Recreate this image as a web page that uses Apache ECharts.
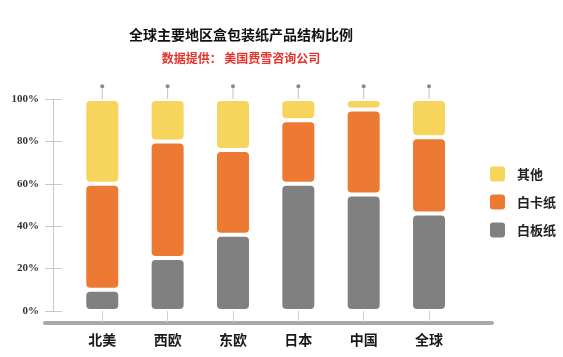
<!DOCTYPE html>
<html>
<head>
<meta charset="utf-8">
<script src="https://cdn.jsdelivr.net/npm/echarts@6/dist/echarts.min.js"></script>
<style>
html,body{margin:0;padding:0;background:#fff;}
#main{width:563px;height:357px;}
</style>
</head>
<body>
<div id="main"></div>
<script>
const categories = ['北美', '西欧', '东欧', '日本', '中国', '全球'];
const whiteboard = [10, 25, 36, 60, 55, 46];   // 白板纸
const whitecard  = [50, 55, 40, 30, 40, 36];   // 白卡纸
const others     = [40, 20, 24, 10, 5, 18];    // 其他
const seriesNames = ['白板纸', '白卡纸', '其他'];
const legendOrder = ['其他', '白卡纸', '白板纸'];
const pinBase = 100;
const pinTop = 106;

const colors = { '白板纸': '#808080', '白卡纸': '#EC7A33', '其他': '#F7D45B' };
const values = { '白板纸': whiteboard, '白卡纸': whitecard, '其他': others };

const chart = echarts.init(document.getElementById('main'));

const cjk = '"Noto Sans CJK SC", sans-serif';

const series = seriesNames.map((name) => ({
  name: name,
  type: 'bar',
  stack: 'total',
  xAxisIndex: 0,
  yAxisIndex: 0,
  barWidth: 36,
  data: values[name],
  itemStyle: {
    color: colors[name],
    borderColor: '#ffffff',
    borderWidth: 2,
    borderRadius: 5
  },
  emphasis: { disabled: true }
}));

series.push({
  type: 'custom',
  xAxisIndex: 0,
  yAxisIndex: 0,
  silent: true,
  clip: false,
  data: categories.map((c, i) => [i, pinBase, pinTop]),
  renderItem: function (params, api) {
    const base = api.coord([api.value(0), api.value(1)]);
    const top = api.coord([api.value(0), api.value(2)]);
    return {
      type: 'group',
      children: [
        { type: 'line', shape: { x1: base[0], y1: base[1], x2: top[0], y2: top[1] },
          style: { stroke: '#c4c4c4', lineWidth: 1 } },
        { type: 'circle', shape: { cx: top[0], cy: top[1], r: 2 },
          style: { fill: '#8a8a8a' } }
      ]
    };
  }
});

chart.setOption({
  backgroundColor: '#ffffff',
  animation: false,
  title: [
    {
      text: '全球主要地区盒包装纸产品结构比例',
      left: 236, top: 23, textAlign: 'center',
      textStyle: { fontFamily: cjk, fontWeight: 'bold', fontSize: 14, color: '#111' }
    },
    {
      text: '数据提供： 美国费雪咨询公司',
      left: 236, top: 47, textAlign: 'center',
      textStyle: { fontFamily: cjk, fontWeight: 'bold', fontSize: 12, color: '#E8322C' }
    }
  ],
  legend: {
    data: legendOrder,
    orient: 'vertical',
    left: 483,
    top: 159.5,
    itemWidth: 17,
    itemHeight: 17,
    itemGap: 9,
    icon: 'roundRect',
    selectedMode: false,
    textStyle: { fontFamily: cjk, fontWeight: 'bold', fontSize: 13, color: '#222', padding: [0, 0, 0, 6] }
  },
  grid: [
    { left: 69.6, right: 101.3, top: 99, bottom: 46 },
    { left: 45, right: 71, top: 99, bottom: 34 }
  ],
  xAxis: [
    {
      gridIndex: 0,
      type: 'category',
      data: categories,
      axisLine: { show: false },
      axisTick: { show: true, alignWithLabel: true, length: 11, lineStyle: { color: '#d0d0d0' } },
      axisLabel: { margin: 22, fontFamily: cjk, fontWeight: 'bold', fontSize: 14, color: '#1a1a1a' }
    },
    {
      gridIndex: 1,
      type: 'value',
      min: 0, max: 1,
      axisLine: { show: true, lineStyle: { color: '#a8a8a8', width: 4 } },
      axisTick: { show: false },
      axisLabel: { show: false },
      splitLine: { show: false }
    }
  ],
  yAxis: [
    {
      gridIndex: 0,
      type: 'value',
      position: 'left',
      min: 0, max: 100, interval: 20,
      offset: 16.6,
      axisLine: { show: true, lineStyle: { color: '#c8c8c8', width: 1 } },
      axisTick: { show: true, length: 8, lineStyle: { color: '#c8c8c8' } },
      axisLabel: {
        formatter: '{value}%', margin: 14,
        fontFamily: '"Liberation Serif", serif', fontWeight: 'bold', fontSize: 11, color: '#333'
      },
      splitLine: { show: false }
    },
    {
      gridIndex: 0,
      type: 'value',
      position: 'left',
      min: 0, max: 100, interval: 20,
      offset: 16.6,
      axisLine: { show: false },
      axisTick: { show: true, inside: true, length: 9, lineStyle: { color: '#c8c8c8' } },
      axisLabel: { show: false },
      splitLine: { show: false }
    },
    {
      gridIndex: 1,
      type: 'value',
      show: false
    }
  ],
  series: series
});
</script>
</body>
</html>
